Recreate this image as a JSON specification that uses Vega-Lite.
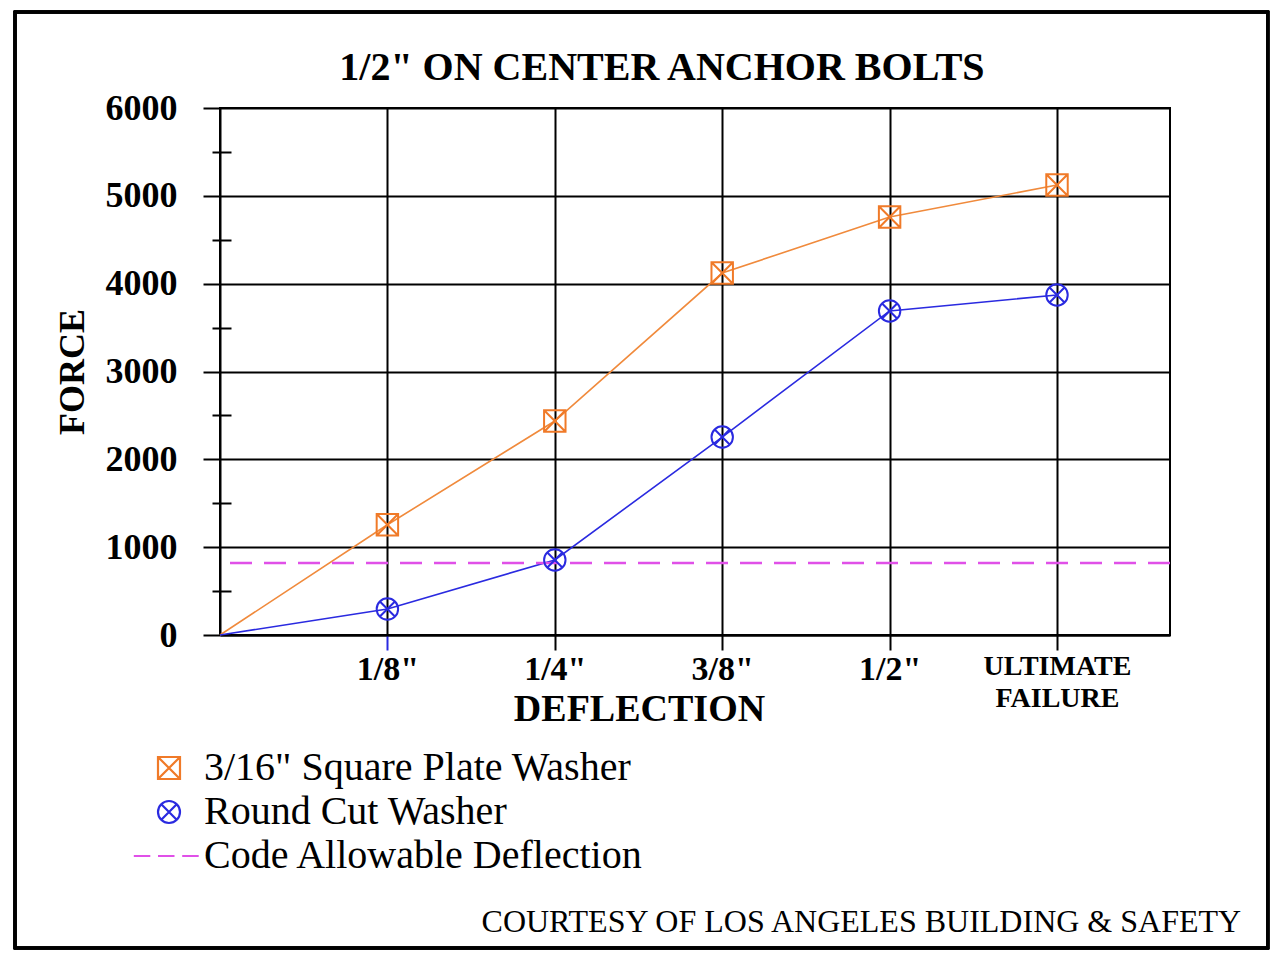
{
  "$schema": "https://vega.github.io/schema/vega-lite/v6.json",
  "width": 950,
  "height": 527,
  "autosize": {"type": "none"},
  "padding": {"left": 220, "top": 108, "right": 114, "bottom": 323},
  "background": "white",
  "data": {
    "values": [
      {"series": "3/16\" Square Plate Washer", "x": 0, "force": 0},
      {"series": "3/16\" Square Plate Washer", "x": 1, "force": 1255},
      {"series": "3/16\" Square Plate Washer", "x": 2, "force": 2436},
      {"series": "3/16\" Square Plate Washer", "x": 3, "force": 4121},
      {"series": "3/16\" Square Plate Washer", "x": 4, "force": 4759},
      {"series": "3/16\" Square Plate Washer", "x": 5, "force": 5123},
      {"series": "Round Cut Washer", "x": 0, "force": 0},
      {"series": "Round Cut Washer", "x": 1, "force": 296},
      {"series": "Round Cut Washer", "x": 2, "force": 854},
      {"series": "Round Cut Washer", "x": 3, "force": 2254},
      {"series": "Round Cut Washer", "x": 4, "force": 3689},
      {"series": "Round Cut Washer", "x": 5, "force": 3871}
    ]
  },
  "layer": [
    {
      "mark": {"type": "line", "strokeWidth": 1.6},
      "encoding": {
        "x": {
          "field": "x",
          "type": "quantitative",
          "scale": {"domain": [0, 5.675], "nice": false, "zero": false},
          "title": "DEFLECTION",
          "axis": {
            "values": [1, 2, 3, 4, 5],
            "labelExpr": "datum.value == 5 ? ['ULTIMATE', 'FAILURE'] : ['', '1/8\"', '1/4\"', '3/8\"', '1/2\"'][datum.value]",
            "labelFont": "Liberation Serif",
            "labelFontWeight": "bold",
            "labelFontSize": {"condition": {"test": "datum.value == 5", "value": 28}, "value": 34},
            "labelColor": "black",
            "labelPadding": 2,
            "labelLineHeight": 32,
            "labelBaseline": "top",
            "tickSize": 15,
            "tickWidth": 2,
            "tickColor": {"condition": {"test": "datum.value == 1", "value": "#2a2ae0"}, "value": "black"},
            "domainColor": "black",
            "domainWidth": 2,
            "grid": true,
            "gridColor": "black",
            "gridWidth": 2,
            "gridOpacity": 1,
            "titleFont": "Liberation Serif",
            "titleFontSize": 38,
            "titleFontWeight": "bold",
            "titleColor": "black",
            "titlePadding": -22,
            "titleX": 419
          }
        },
        "y": {
          "field": "force",
          "type": "quantitative",
          "scale": {"domain": [0, 6000], "nice": false},
          "title": "FORCE",
          "axis": {
            "values": [0, 1000, 2000, 3000, 4000, 5000, 6000],
            "format": "d",
            "labelFont": "Liberation Serif",
            "labelFontWeight": "bold",
            "labelFontSize": 36,
            "labelColor": "black",
            "labelPadding": 26,
            "tickSize": 17,
            "tickWidth": 2,
            "tickColor": "black",
            "domainColor": "black",
            "domainWidth": 2,
            "grid": true,
            "gridColor": "black",
            "gridWidth": 2,
            "gridOpacity": 1,
            "titleFont": "Liberation Serif",
            "titleFontSize": 36,
            "titleFontWeight": "bold",
            "titleColor": "black",
            "titlePadding": 14
          }
        },
        "stroke": {
          "field": "series",
          "type": "nominal",
          "scale": {"domain": ["3/16\" Square Plate Washer", "Round Cut Washer"], "range": ["#f08a3c", "#2a2ae0"]},
          "legend": null
        }
      }
    },
    {
      "mark": {"type": "rect", "filled": false, "stroke": "black", "strokeWidth": 2.5, "clip": false},
      "encoding": {
        "x": {"datum": -1.2246, "type": "quantitative"},
        "x2": {"datum": 6.26},
        "y": {"datum": 7093, "type": "quantitative", "axis": null},
        "y2": {"datum": -3564}
      }
    },
    {
      "data": {"values": [{"limit": 820}]},
      "mark": {"type": "rule", "stroke": "#e050e8", "strokeWidth": 2.5, "strokeDash": [22, 12]},
      "encoding": {
        "y": {
          "field": "limit",
          "type": "quantitative",
          "axis": {
            "orient": "left",
            "values": [500, 1500, 2500, 3500, 4500, 5500],
            "labels": false,
            "domain": false,
            "grid": false,
            "title": null,
            "offset": -11,
            "tickSize": 19,
            "tickWidth": 2,
            "tickColor": "black"
          }
        }
      }
    },
    {
      "transform": [{"filter": "datum.x > 0"}],
      "mark": {"type": "point", "filled": false, "size": 460, "strokeWidth": 2, "opacity": 1},
      "encoding": {
        "x": {"field": "x", "type": "quantitative"},
        "y": {"field": "force", "type": "quantitative", "axis": null},
        "color": {
          "field": "series",
          "type": "nominal",
          "scale": {
            "domain": ["3/16\" Square Plate Washer", "Round Cut Washer", "Code Allowable Deflection"],
            "range": ["#f07a28", "#2a2ae0", "#e050e8"]
          },
          "legend": {
            "orient": "none",
            "legendX": -71,
            "legendY": 640,
            "title": null,
            "labelFont": "Liberation Serif",
            "labelFontSize": 40,
            "labelColor": "black",
            "labelOffset": 15,
            "labelLimit": 700,
            "rowPadding": 4,
            "symbolSize": 484,
            "symbolStrokeWidth": 2.2
          }
        },
        "shape": {
          "field": "series",
          "type": "nominal",
          "scale": {
            "domain": ["3/16\" Square Plate Washer", "Round Cut Washer", "Code Allowable Deflection"],
            "range": [
              "M-1,-1H1V1H-1Z M-1,-1L1,1 M1,-1L-1,1",
              "M-1,0A1,1 0 1,1 1,0A1,1 0 1,1 -1,0Z M-0.7,-0.7L0.7,0.7 M0.7,-0.7L-0.7,0.7",
              "M-3.2,0H-1.7 M-1,0H0.5 M1.2,0H2.7"
            ]
          }
        }
      }
    },
    {
      "data": {"values": [{"label": "1/2\" ON CENTER ANCHOR BOLTS"}]},
      "mark": {"type": "text", "align": "center", "baseline": "middle", "font": "Liberation Serif", "fontSize": 40, "fontWeight": "bold", "color": "black", "clip": false},
      "encoding": {
        "text": {"field": "label"},
        "x": {"datum": 2.64, "type": "quantitative"},
        "y": {"datum": 6456, "type": "quantitative", "axis": null}
      }
    },
    {
      "data": {"values": [{"note": "COURTESY OF LOS ANGELES BUILDING & SAFETY"}]},
      "mark": {"type": "text", "align": "right", "baseline": "middle", "font": "Liberation Serif", "fontSize": 32, "color": "black", "clip": false},
      "encoding": {
        "text": {"field": "note"},
        "x": {"datum": 6.1, "type": "quantitative"},
        "y": {"datum": -3268, "type": "quantitative", "axis": null}
      }
    }
  ],
  "resolve": {"axis": {"y": "independent"}},
  "config": {
    "view": {"stroke": "black", "strokeWidth": 2}
  }
}
